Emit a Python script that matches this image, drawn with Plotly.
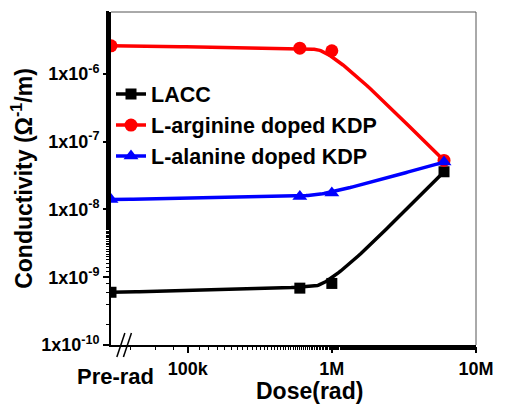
import plotly.graph_objects as go
import math

PRE = 2.94e4  # position used for "Pre-rad"
dose = [PRE, 6e5, 1e6, 6e6]
lacc = [6.0e-10, 6.9e-10, 8.1e-10, 3.6e-8]
arginine = [2.6e-6, 2.4e-6, 2.2e-6, 5.3e-8]
alanine = [1.4e-8, 1.55e-8, 1.75e-8, 5.0e-8]

ytick_vals = [1e-10, 1e-9, 1e-8, 1e-7, 1e-6]
ytick_text = ["1x10<sup>-10</sup>", "1x10<sup>-9</sup>", "1x10<sup>-8</sup>",
              "1x10<sup>-7</sup>", "1x10<sup>-6</sup>"]
xtick_vals = [1e5, 1e6, 1e7]
xtick_text = ["100k", "1M", "10M"]

FONT = "Arial, Liberation Sans, sans-serif"


def smooth_curve(xs, ys, iters=5):
    """Chaikin corner-cutting in log-log space (endpoints kept)."""
    pts = [(math.log10(a), math.log10(b)) for a, b in zip(xs, ys)]
    for _ in range(iters):
        new = [pts[0]]
        for (x0, y0), (x1, y1) in zip(pts[:-1], pts[1:]):
            new.append((0.75 * x0 + 0.25 * x1, 0.75 * y0 + 0.25 * y1))
            new.append((0.25 * x0 + 0.75 * x1, 0.25 * y0 + 0.75 * y1))
        new.append(pts[-1])
        pts = new
    return [10 ** p[0] for p in pts], [10 ** p[1] for p in pts]


fig = go.Figure()
series = [
    ("LACC", lacc, "black", "square", 11),
    ("L-arginine doped KDP", arginine, "red", "circle", 13),
    ("L-alanine doped KDP", alanine, "blue", "triangle-up", 13),
]
for name, ys, col, sym, ms in series:
    cx, cy = smooth_curve(dose, ys)
    fig.add_trace(go.Scatter(x=cx, y=cy, mode="lines", showlegend=False,
                             line=dict(color=col, width=3.5), hoverinfo="skip"))
    fig.add_trace(go.Scatter(x=dose, y=ys, mode="markers", showlegend=False,
                             marker=dict(symbol=sym, size=ms, color=col)))
    fig.add_trace(go.Scatter(x=[None], y=[None], name=name, mode="lines+markers",
                             line=dict(color=col, width=3.5),
                             marker=dict(symbol=sym, size=ms, color=col)))

fig.update_layout(
    width=506, height=406,
    margin=dict(l=111, r=24, t=12, b=61),
    paper_bgcolor="white", plot_bgcolor="white",
    font=dict(family=FONT, color="black", size=17),
    showlegend=True,
    legend=dict(x=0.0, y=0.815, xanchor="left", yanchor="top",
                bgcolor="rgba(0,0,0,0)", font=dict(size=21.5, family=FONT, weight="bold"),
                itemwidth=30, tracegroupgap=0),
)
fig.update_xaxes(
    type="log", range=[math.log10(PRE), 7],
    tickmode="array", tickvals=xtick_vals, ticktext=xtick_text,
    tickfont=dict(size=18, weight="bold"),
    ticks="outside", ticklen=6, tickwidth=1.5, tickcolor="black",
    minor=dict(ticks="outside", ticklen=3, tickwidth=1, tickcolor="black", showgrid=False),
    showline=True, linecolor="black", linewidth=2, showgrid=False, zeroline=False,
)
fig.update_yaxes(
    type="log", range=[-10, -5.086],
    tickmode="array", tickvals=ytick_vals, ticktext=ytick_text,
    tickfont=dict(size=18, weight="bold"),
    ticks="outside", ticklen=6, tickwidth=1.5, tickcolor="black",
    minor=dict(ticks="outside", ticklen=3, tickwidth=1, tickcolor="black", showgrid=False),
    showline=True, linecolor="black", linewidth=2, showgrid=False, zeroline=False,
    title=dict(text="Conductivity (Ω<sup>-1</sup>/m)", font=dict(size=23, weight="bold"), standoff=2),
)
# top and right frame
fig.add_shape(type="line", xref="paper", yref="paper", x0=0, x1=1, y0=1, y1=1,
              line=dict(color="#555", width=1))
fig.add_shape(type="line", xref="paper", yref="paper", x0=1, x1=1, y0=0, y1=1,
              line=dict(color="#555", width=1))
# axis break marks
for dx in [0.0, 0.018]:
    fig.add_shape(type="line", xref="paper", yref="paper",
                  x0=0.016 + dx, x1=0.038 + dx, y0=-0.036, y1=0.036,
                  line=dict(color="black", width=1.5))
fig.add_annotation(x=math.log10(PRE) + 0.03, xref="x", y=-0.05, yref="paper",
                   text="<b>Pre-rad</b>", showarrow=False, yanchor="top",
                   font=dict(size=22, family=FONT))
fig.add_annotation(x=0.545, xref="paper", y=-0.138, yref="paper",
                   text="<b>Dose(rad)</b>", showarrow=False, yanchor="middle",
                   font=dict(size=23, family=FONT))
fig.write_html("out.html")
